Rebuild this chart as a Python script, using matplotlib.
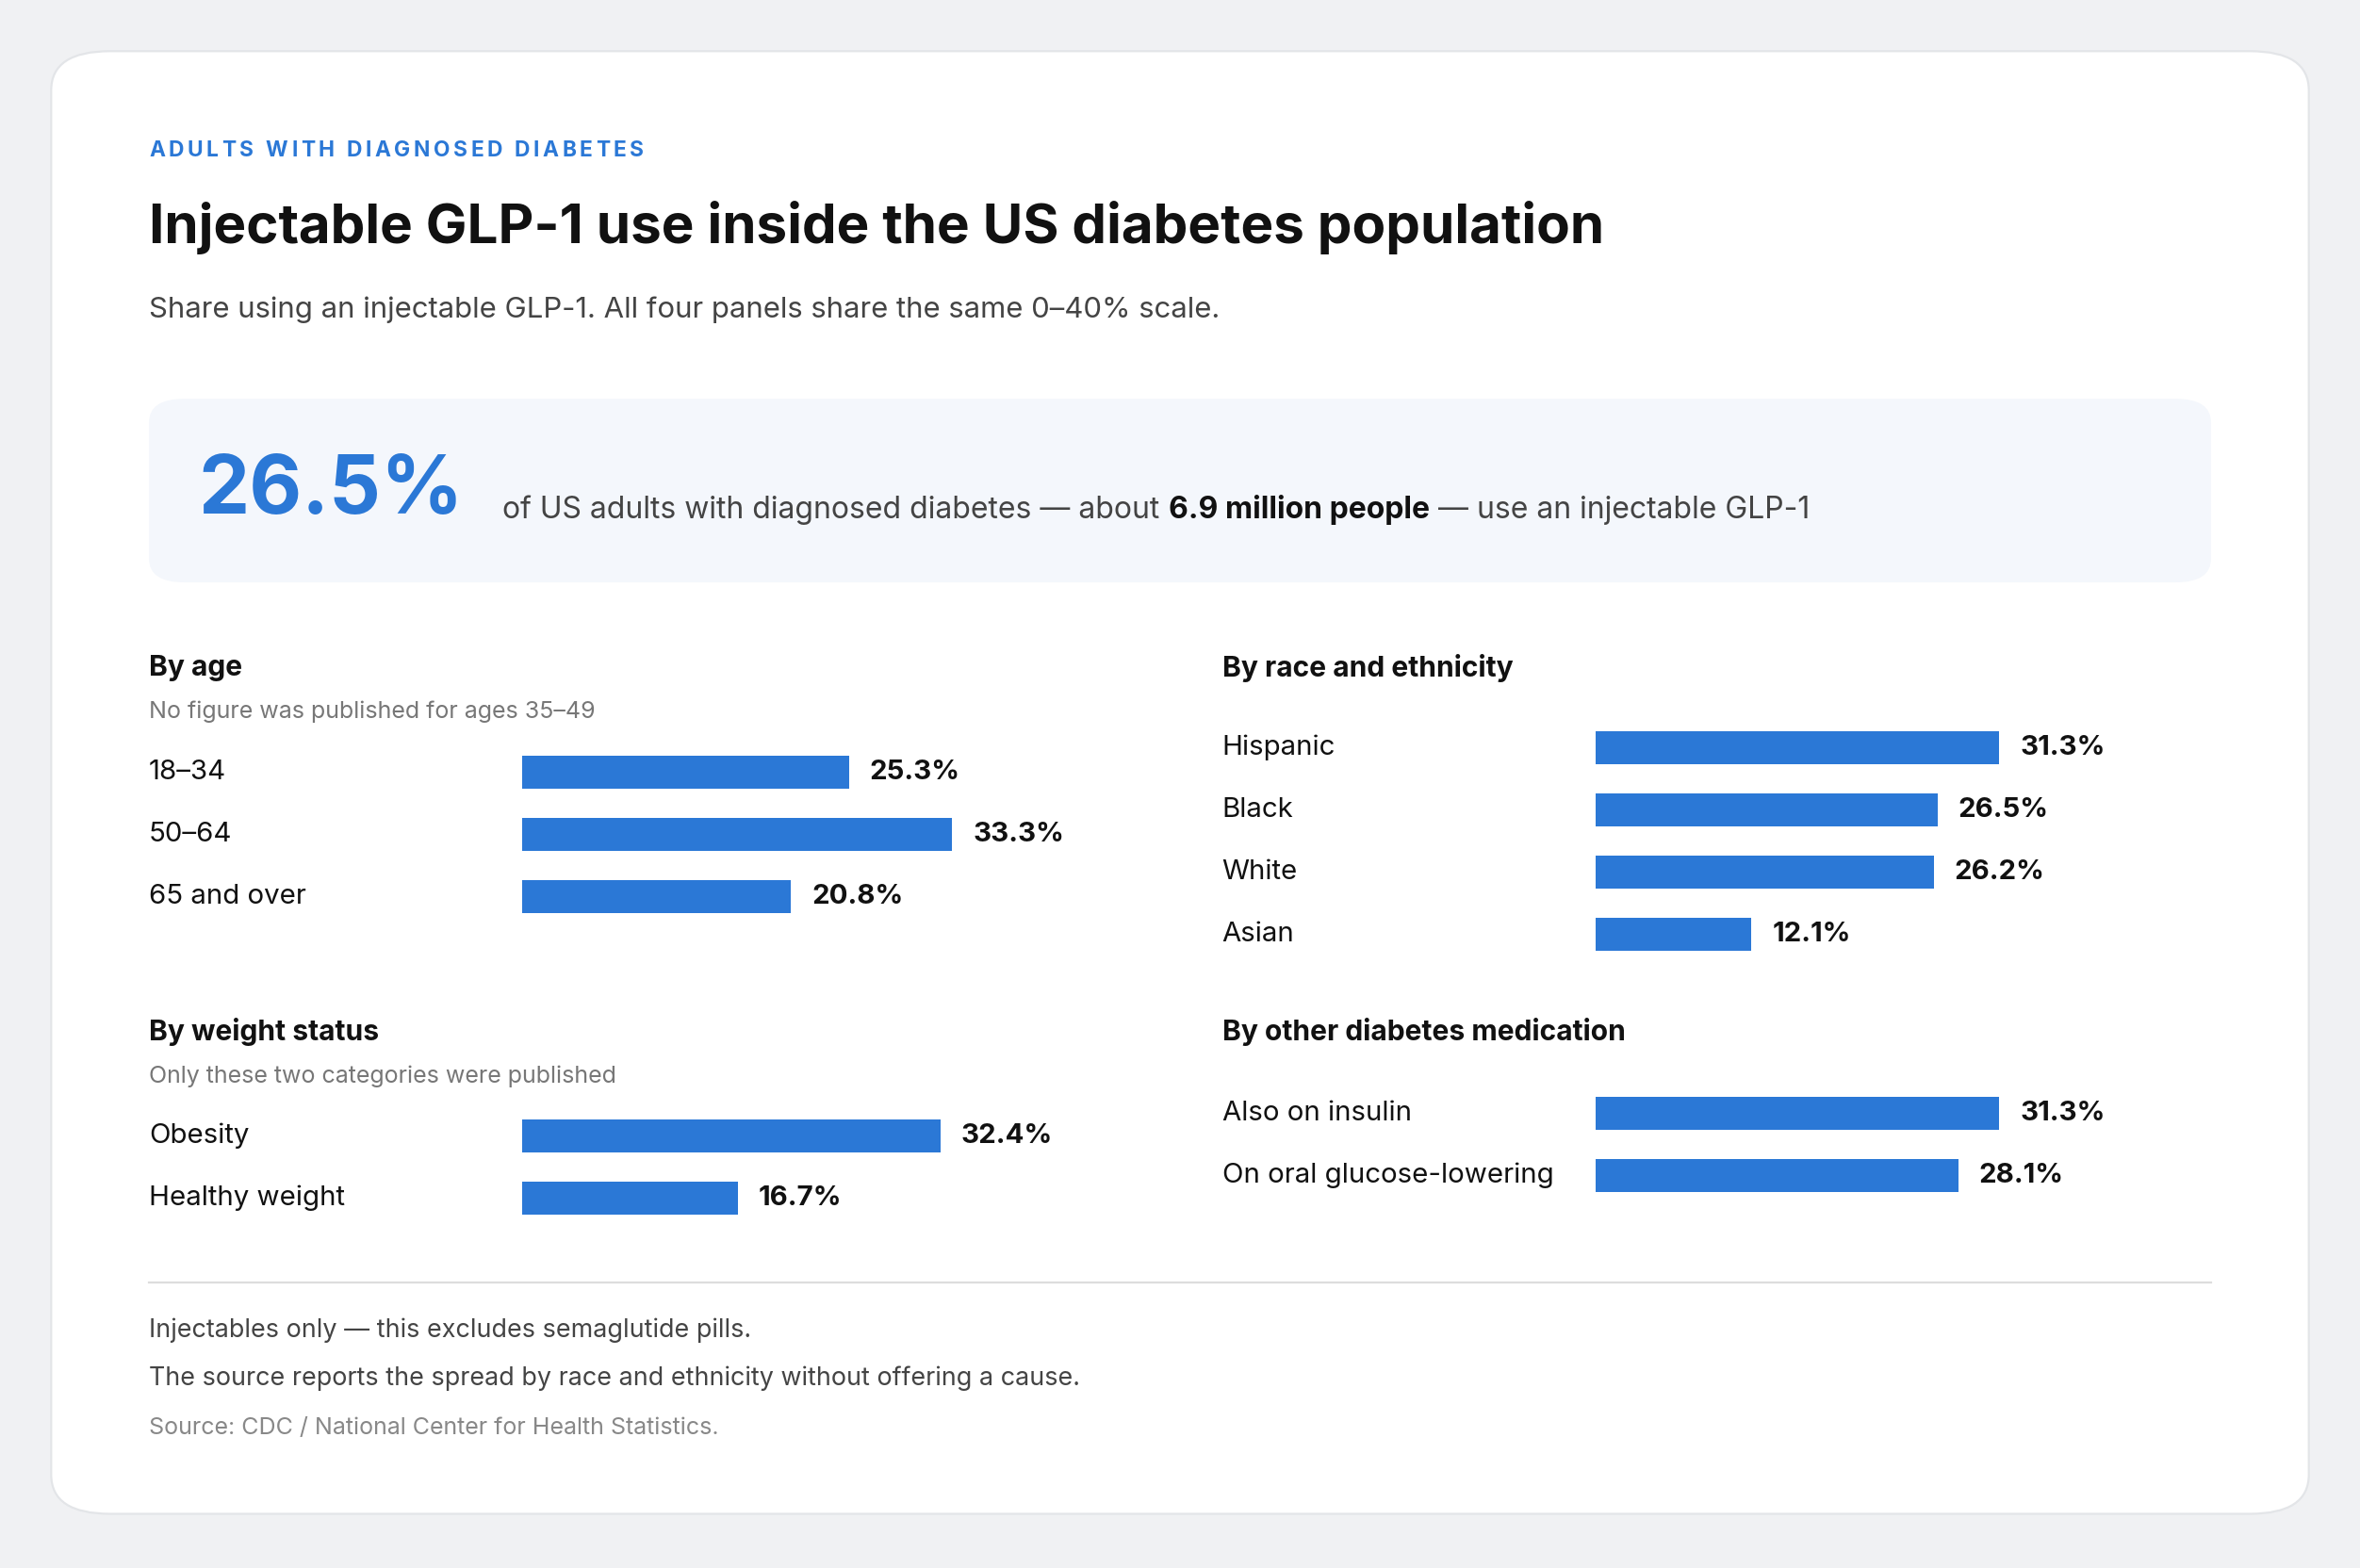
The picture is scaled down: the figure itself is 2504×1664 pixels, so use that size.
import matplotlib
matplotlib.use("Agg")
import matplotlib.pyplot as plt
from matplotlib.patches import FancyBboxPatch
from matplotlib.transforms import blended_transform_factory

plt.rcParams['font.family'] = ['Inter', 'DejaVu Sans']

age_labels = ["18–34", "50–64", "65 and over"]
age_values = [25.3, 33.3, 20.8]
race_labels = ["Hispanic", "Black", "White", "Asian"]
race_values = [31.3, 26.5, 26.2, 12.1]
weight_labels = ["Obesity", "Healthy weight"]
weight_values = [32.4, 16.7]
med_labels = ["Also on insulin", "On oral glucose-lowering"]
med_values = [31.3, 28.1]

W, H = 1568, 1042
BLUE = "#2b78d6"
fig = plt.figure(figsize=(12.52, 8.32), dpi=200)
fig.patch.set_facecolor("#f0f1f3")

def fx(x): return x / W
def fy(y): return 1 - y / H

card = FancyBboxPatch((fx(34), fy(1006)), fx(1500), (972) / H,
                      boxstyle="round,pad=0,rounding_size=0.025",
                      transform=fig.transFigure, facecolor="white", edgecolor="#e3e5e8", lw=0.8, zorder=-3)
fig.patches.append(card)
hl = FancyBboxPatch((fx(99), fy(387)), fx(1370), 122 / H,
                    boxstyle="round,pad=0,rounding_size=0.015",
                    transform=fig.transFigure, facecolor="#f4f7fc", edgecolor="none", zorder=-2)
fig.patches.append(hl)

fig.canvas.draw()
r = fig.canvas.get_renderer()

# kicker with letter spacing
x = fx(99)
for ch in "ADULTS WITH DIAGNOSED DIABETES":
    t = fig.text(x, fy(100), ch, color=BLUE, fontsize=8.2, fontweight="bold", va="center", ha="left")
    w = t.get_window_extent(r).width if ch != " " else 0
    if ch == " ":
        w = 2.4 / W * fig.bbox.width * 1.6
    x += w / fig.bbox.width + fx(2.2)
    
fig.text(fx(99), fy(151), "Injectable GLP-1 use inside the US diabetes population", color="#111111",
         fontsize=21, fontweight="bold", va="center", ha="left")
fig.text(fx(99), fy(206), "Share using an injectable GLP-1. All four panels share the same 0–40% scale.",
         color="#444444", fontsize=11.2, va="center", ha="left")

fig.text(fx(132), fy(327), "26.5%", color=BLUE, fontsize=31, fontweight="bold", va="center", ha="left")

x = fx(334)
for txt, wgt, col in [("of US adults with diagnosed diabetes — about ", "normal", "#444444"),
                      ("6.9 million people", "bold", "#111111"),
                      (" — use an injectable GLP-1", "normal", "#444444")]:
    t = fig.text(x, fy(339), txt, color=col, fontsize=11.5, fontweight=wgt, va="center", ha="left")
    bb = t.get_window_extent(r)
    x += bb.width / fig.bbox.width

def panel(title, note, labels, values, lx, bx, ty, first_c):
    fig.text(fx(lx), fy(ty), title, fontsize=10.8, fontweight="bold", color="#111111", va="center")
    if note:
        fig.text(fx(lx), fy(ty + 29), note, fontsize=9.0, color="#777777", va="center")
    n = len(values)
    step = 41.3
    top = first_c - step / 2
    ax = fig.add_axes([fx(bx), fy(top + n * step), fx(343), n * step / H], zorder=2)
    ax.patch.set_visible(False)
    ax.barh(range(n), values, height=22 / step, color=BLUE)
    ax.set_xlim(0, 40)
    ax.set_ylim(n - 0.5, -0.5)
    ax.axis("off")
    tr = blended_transform_factory(fig.transFigure, ax.transData)
    for i, (lab, v) in enumerate(zip(labels, values)):
        ax.text(fx(lx), i, lab, transform=tr, fontsize=10.6, color="#111111", va="center", ha="left",
                clip_on=False)
        ax.text(v + 1.6, i, f"{v}%", fontsize=10.6, fontweight="bold", color="#111111",
                va="center", ha="left", clip_on=False)

panel("By age", "No figure was published for ages 35–49", age_labels, age_values, 99, 347, 444, 513)
panel("By race and ethnicity", None, race_labels, race_values, 812, 1060, 444, 497)
panel("By weight status", "Only these two categories were published", weight_labels, weight_values, 99, 347, 686, 755)
panel("By other diabetes medication", None, med_labels, med_values, 812, 1060, 686, 740)

fig.add_artist(plt.Line2D([fx(99), fx(1469)], [fy(852), fy(852)], color="#dddddd", lw=0.8,
                          transform=fig.transFigure))
fig.text(fx(99), fy(884), "Injectables only — this excludes semaglutide pills.", fontsize=9.7,
         color="#444444", va="center")
fig.text(fx(99), fy(916), "The source reports the spread by race and ethnicity without offering a cause.",
         fontsize=9.7, color="#444444", va="center")
fig.text(fx(99), fy(949), "Source: CDC / National Center for Health Statistics.", fontsize=9.0,
         color="#888888", va="center")

fig.savefig("out.png", dpi=200, facecolor=fig.get_facecolor())
